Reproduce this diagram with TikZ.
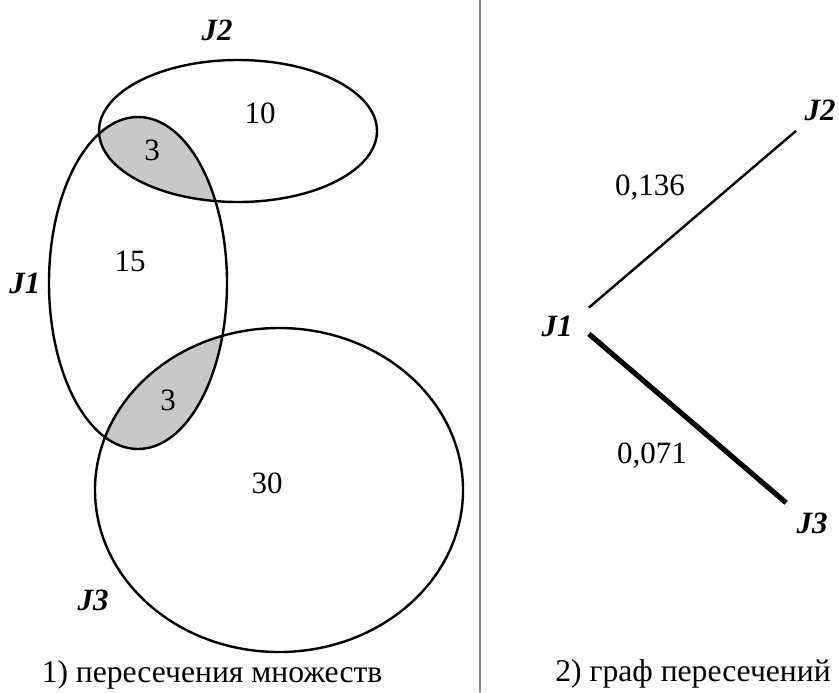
\documentclass[tikz,border=0pt]{standalone}
\usepackage{fontspec}
\setmainfont{Liberation Serif}
\usepackage{tikz}
\usetikzlibrary{positioning}
\definecolor{cshade}{RGB}{200,200,200}
\definecolor{csep}{RGB}{130,130,130}

\tikzset{
  setline/.style={line width=1.2pt},
  setname/.style={font=\fontsize{15.5}{18}\selectfont\bfseries\itshape},
  countlbl/.style={font=\fontsize{15.5}{18}\selectfont},
  capt/.style={font=\fontsize{15.8}{18}\selectfont},
  vert/.style={setname, inner sep=5pt},
  thinedge/.style={line width=1.2pt},
  thickedge/.style={line width=2.6pt},
}

\begin{document}
\begin{tikzpicture}[x=0.5pt, y=-0.5pt]
  \useasboundingbox (0,0) rectangle (839,692);

  % shaded intersections with J1
  \begin{scope}
    \clip (138,283) ellipse [x radius=89, y radius=166];
    \fill[cshade] (238,131) ellipse [x radius=139, y radius=71];
    \fill[cshade] (279,490) ellipse [x radius=184, y radius=162];
  \end{scope}

  % the three sets
  \draw[setline] (238,131) ellipse [x radius=139, y radius=71];
  \draw[setline] (138,283) ellipse [x radius=89, y radius=166];
  \draw[setline] (279,490) ellipse [x radius=184, y radius=162];

  \node[setname] (nJ2) at (217,30) {J2};
  \node[setname] (nJ1) at (25,283) {J1};
  \node[setname] (nJ3) at (93,600) {J3};

  \node[countlbl] (c10) at (260,113) {10};
  \node[countlbl] (c12) at (152,150) {3};
  \node[countlbl] (c15) at (130,261) {15};
  \node[countlbl] (c13) at (168,400) {3};
  \node[countlbl] (c30) at (267,483) {30};

  \node[capt] (cap1) at (212,675) {1) пересечения множеств};

  % separator
  \draw[csep, line width=0.8pt] (480,0) -- (480,692);

  % graph of intersections
  \node[vert, inner sep=8pt] (j1) at (557,326) {J1};
  \node[vert] (j2) at (820,110) {J2};
  \node[vert] (j3) at (812,523) {J3};

  \draw[thinedge] (j1.30) -- (j2.221);
  \draw[thickedge] (j1.-14) -- (j3.142);

  \node[countlbl] (w12) at (650,188) {0,136};
  \node[countlbl] (w13) at (652,456) {0,071};

  \node[capt] (cap2) at (693,674) {2) граф пересечений};
\end{tikzpicture}
\end{document}
